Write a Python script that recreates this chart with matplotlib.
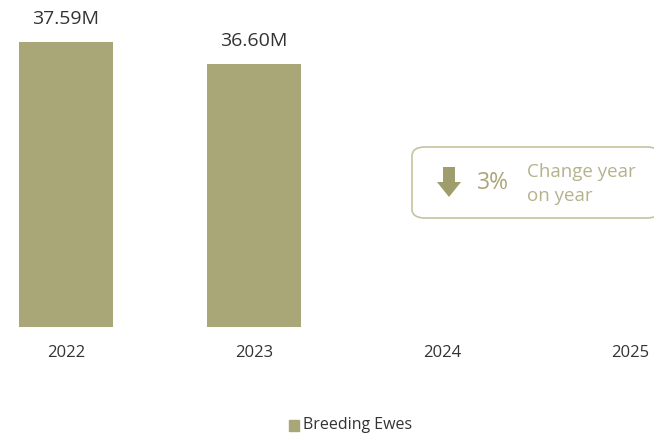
import numpy as np
import matplotlib.pyplot as plt
from matplotlib.patches import FancyBboxPatch, Polygon

# data
years = ['2022', '2023', '2024', '2025']
ewes = [37.59, 36.60, np.nan, np.nan]
value_labels = ['37.59M', '36.60M', '', '']
series_name = 'Breeding Ewes'
change_pct = '3%'
change_text = 'Change year\non year'

bar_color = '#A9A677'
text_color = '#333333'
W, H = 654, 434

plt.rcParams['font.family'] = ['Open Sans', 'DejaVu Sans']

fig = plt.figure(figsize=(W / 100, H / 100), dpi=100)


def fx(px):
    return px / W


def fy(py):
    return 1 - py / H


# axes placed so that the baseline sits at y=327px
ax = fig.add_axes([0, fy(327), 1, 1 - fy(327)])
x = np.arange(len(years))
bars = ax.bar(x, ewes, width=0.5, color=bar_color)
ax.set_xlim(-66 / 188, 3 + 24 / 188)
ax.set_ylim(25, 25 + 327 / 22.64)

for xi, v, lab in zip(x, ewes, value_labels):
    if lab:
        ax.annotate(lab, (xi, v), xytext=(0, 10), textcoords='offset points',
                    ha='center', va='bottom', fontsize=14, color=text_color)

ax.set_xticks(x)
ax.set_xticklabels(years, fontsize=12, color=text_color)
ax.tick_params(axis='x', length=0, pad=13)
ax.set_yticks([])
for s in ax.spines.values():
    s.set_visible(False)
ax.patch.set_alpha(0)

# change box
box = FancyBboxPatch((fx(412), fy(218)), fx(660) - fx(412), fy(147) - fy(218),
                     boxstyle='round,pad=0,rounding_size=0.02',
                     transform=fig.transFigure, facecolor='white',
                     edgecolor='#C5C3A0', linewidth=1.2, clip_on=False)
fig.patches.append(box)

arrow_px = [(443, 167), (455, 167), (455, 182), (461, 182), (449, 197),
            (437, 182), (443, 182)]
arrow = Polygon([(fx(px), fy(py)) for px, py in arrow_px], closed=True,
                transform=fig.transFigure, facecolor='#A09D6C', edgecolor='none')
fig.patches.append(arrow)

fig.text(fx(477), fy(183), change_pct, fontsize=16.5, color='#A9A677',
         ha='left', va='center')
fig.text(fx(527), fy(184), change_text, fontsize=13.5, color='#B5B28C',
         ha='left', va='center', linespacing=1.4)

# legend
fig.patches.append(plt.Rectangle((fx(289), fy(431)), fx(10), 11 / H,
                                 transform=fig.transFigure, color=bar_color))
fig.text(fx(303), fy(425), series_name, fontsize=11.5, color=text_color,
         ha='left', va='center')

fig.savefig('out.png', dpi=100)
